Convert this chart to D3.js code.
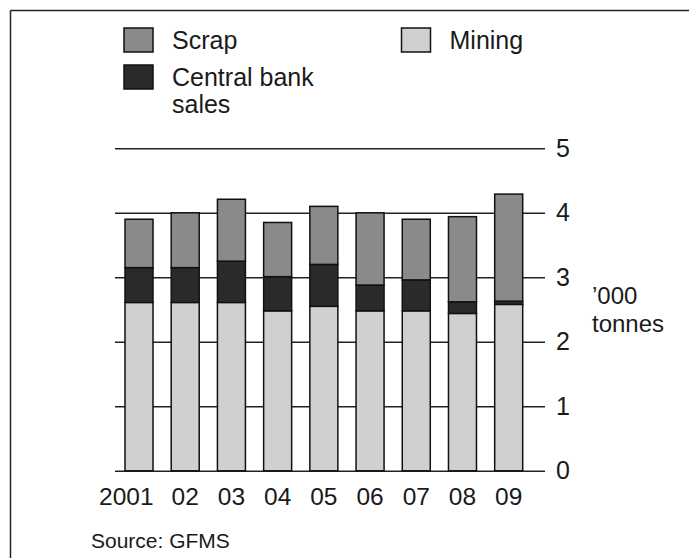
<!DOCTYPE html>
<html lang="en">
<head>
<meta charset="utf-8">
<title>Gold supply</title>
<script src="https://d3js.org/d3.v7.min.js"></script>
<style>
  body { margin: 0; background: #fff; }
  svg text { font-family: "Liberation Sans", Arial, Helvetica, sans-serif; fill: #1a1a1a; }
</style>
</head>
<body>
<script>
// data ('000 tonnes)
var years = ["2001", "02", "03", "04", "05", "06", "07", "08", "09"];
var mining = [2.61, 2.61, 2.61, 2.48, 2.55, 2.48, 2.48, 2.44, 2.58];
var centralBank = [0.54, 0.54, 0.64, 0.53, 0.65, 0.40, 0.48, 0.18, 0.05];
var scrap = [0.75, 0.85, 0.96, 0.84, 0.90, 1.12, 0.94, 1.32, 1.66];
var yTicks = [0, 1, 2, 3, 4, 5];

var keys = ["mining", "central", "scrap"];
var colors = { mining: "#d0d0d0", central: "#2a2a2a", scrap: "#8a8a8a" };

var rows = years.map(function(y, i) {
    return { year: y, mining: mining[i], central: centralBank[i], scrap: scrap[i] };
});

var svg = d3.select("body").append("svg")
    .attr("width", 689)
    .attr("height", 558);

// frame: top and left rule
svg.append("line").attr("x1", 10.5).attr("x2", 689).attr("y1", 10.5).attr("y2", 10.5)
    .attr("stroke", "#222").attr("stroke-width", 1.5);
svg.append("line").attr("x1", 10.5).attr("x2", 10.5).attr("y1", 10.5).attr("y2", 558)
    .attr("stroke", "#222").attr("stroke-width", 1.5);

var x = d3.scaleBand()
    .domain(years)
    .range([125, 522.7])
    .paddingInner(0.394)
    .paddingOuter(0);

var y = d3.scaleLinear()
    .domain([0, 5])
    .range([470.8, 148.3]);

// gridlines + right-hand labels
var yAxis = svg.append("g")
    .attr("transform", "translate(545,0)")
    .call(d3.axisRight(y).tickValues(yTicks).tickSize(-430).tickPadding(11).tickFormat(d3.format("d")));
yAxis.select(".domain").remove();
yAxis.selectAll(".tick line").attr("stroke", "#222").attr("stroke-width", 1.5);
yAxis.selectAll(".tick text").attr("font-size", 25).attr("fill", "#1a1a1a")
    .attr("font-family", "'Liberation Sans', Arial, sans-serif");

// stacked bars
var stack = d3.stack().keys(keys)(rows);

svg.append("g").selectAll("g")
    .data(stack)
    .enter().append("g")
    .attr("fill", function(d) { return colors[d.key]; })
    .selectAll("rect")
    .data(function(d) { return d; })
    .enter().append("rect")
    .attr("x", function(d) { return x(d.data.year); })
    .attr("width", x.bandwidth())
    .attr("y", function(d) { return y(d[1]); })
    .attr("height", function(d) { return y(d[0]) - y(d[1]); })
    .attr("stroke", "#111")
    .attr("stroke-width", 1.5);

// year labels, "2001" hangs left so "01" sits under its bar
var xAxis = svg.append("g")
    .attr("transform", "translate(0,480)")
    .call(d3.axisBottom(x).tickSize(0).tickPadding(8));
xAxis.select(".domain").remove();
xAxis.selectAll(".tick text").attr("font-size", 24.5).attr("fill", "#1a1a1a")
    .attr("font-family", "'Liberation Sans', Arial, sans-serif");
xAxis.selectAll(".tick text").filter(function(d) { return d === "2001"; })
    .attr("text-anchor", "end")
    .attr("x", x.bandwidth() / 2 + 0.5);

// unit label
svg.append("text").attr("x", 592).attr("y", 304).attr("font-size", 24).text("\u2019000");
svg.append("text").attr("x", 592).attr("y", 332).attr("font-size", 24).text("tonnes");

// legend
var legend = [
    { key: "scrap", label: ["Scrap"], x: 124, y: 28 },
    { key: "central", label: ["Central bank", "sales"], x: 124, y: 65 },
    { key: "mining", label: ["Mining"], x: 401.5, y: 28 }
];
var lg = svg.append("g").selectAll("g").data(legend).enter().append("g");
lg.append("rect")
    .attr("x", function(d) { return d.x; })
    .attr("y", function(d) { return d.y; })
    .attr("width", 29).attr("height", 24)
    .attr("fill", function(d) { return colors[d.key]; })
    .attr("stroke", "#111").attr("stroke-width", 1.5);
lg.append("text")
    .attr("font-size", 25)
    .attr("y", function(d) { return d.y + 21; })
    .selectAll("tspan")
    .data(function(d) { return d.label.map(function(t) { return { t: t, x: d.x + 48 }; }); })
    .enter().append("tspan")
    .attr("x", function(d) { return d.x; })
    .attr("dy", function(d, i) { return i === 0 ? 0 : 27; })
    .text(function(d) { return d.t; });

svg.append("text").attr("x", 91).attr("y", 548).attr("font-size", 21).text("Source: GFMS");
</script>
</body>
</html>
